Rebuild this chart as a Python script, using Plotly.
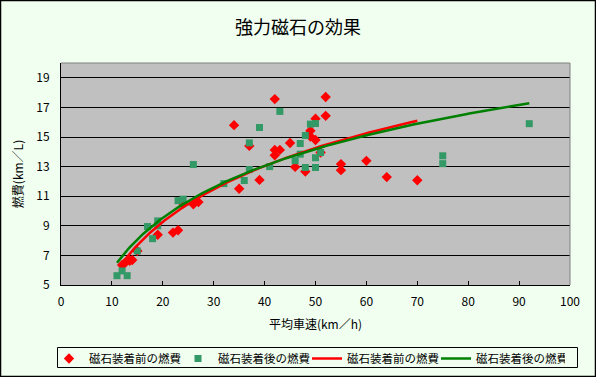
import numpy as np
import plotly.graph_objects as go

before_speed = [12, 12.5, 13.5, 14, 15, 19, 22, 23, 24, 26, 27, 34, 35, 37, 39,
                42, 42, 43, 42, 45, 46, 48, 49, 49, 50, 50, 51, 52, 52, 55, 55,
                60, 64, 70]
before_fuel = [6.35, 6.47, 6.64, 6.69, 7.3, 8.4, 8.54, 8.7, 10.5, 10.45, 10.6,
               15.8, 11.5, 14.4, 12.1, 17.56, 14.13, 14.13, 13.77, 14.59, 12.98,
               12.67, 15.42, 15.03, 16.23, 14.8, 13.95, 17.7, 16.43, 13.17,
               12.76, 13.39, 12.29, 12.08]

after_speed = [11, 12, 13, 15, 17, 18, 19, 19, 23, 24, 26, 32, 36, 37, 37, 39,
               41, 43, 46, 47, 47, 48, 48, 49, 50, 50, 50, 51, 75, 75, 92]
after_fuel = [5.63, 5.95, 5.63, 7.3, 8.95, 8.13, 9.33, 9.0, 10.7, 10.8, 13.14,
              11.85, 12.06, 14.6, 12.8, 15.64, 13.0, 16.73, 13.4, 14.56, 13.84,
              15.1, 12.94, 15.87, 15.91, 13.6, 12.94, 13.95, 13.73, 13.2, 15.9]

x_ticks = list(range(0, 101, 10))
y_ticks = [5, 7, 9, 11, 13, 15, 17, 19]

label_before = "磁石装着前の燃費"
label_after = "磁石装着後の燃費"

FONT = "Noto Sans CJK JP, sans-serif"


def log_trend(xs, ys):
    xs = np.asarray(xs, float)
    ys = np.asarray(ys, float)
    a, b = np.polyfit(np.log(xs), ys, 1)
    gx = np.linspace(xs.min(), xs.max(), 200)
    return gx, a * np.log(gx) + b


fig = go.Figure()
fig.add_trace(go.Scatter(x=before_speed, y=before_fuel, mode="markers",
                         name=label_before,
                         marker=dict(symbol="diamond", size=8, color="#FF0000")))
fig.add_trace(go.Scatter(x=after_speed, y=after_fuel, mode="markers",
                         name=label_after,
                         marker=dict(symbol="square", size=7, color="#339966")))
bx, by = log_trend(before_speed, before_fuel)
fig.add_trace(go.Scatter(x=bx, y=by, mode="lines", name=label_before,
                         line=dict(color="#FF0000", width=2.5)))
ax, ay = log_trend(after_speed, after_fuel)
fig.add_trace(go.Scatter(x=ax, y=ay, mode="lines", name=label_after,
                         line=dict(color="#008000", width=2.5)))

pw, ph = 509, 222
fig.update_layout(
    width=596, height=377,
    margin=dict(l=61, r=26, t=63, b=92, autoexpand=False),
    paper_bgcolor="#F0FFF0", plot_bgcolor="#C0C0C0",
    font=dict(family=FONT, size=12, color="#000000"),
    title=dict(text="強力磁石の効果", x=0.5, xanchor="center",
               y=1 - 28 / 377, yanchor="middle",
               font=dict(family=FONT, size=18, color="#000000")),
    xaxis=dict(range=[0, 100], tickvals=x_ticks, ticks="inside", ticklen=4,
               tickcolor="#000000", showgrid=False, zeroline=False,
               showline=True, linecolor="#000000", linewidth=1,
               automargin=False, ticklabelstandoff=6,
               title=dict(text="平均車速(km／h)", standoff=12,
                          font=dict(family=FONT, size=12)),
               tickfont=dict(family=FONT, size=12)),
    yaxis=dict(range=[5, 20], tickvals=y_ticks, ticks="",
               showgrid=True, gridcolor="#000000",
               gridwidth=1, zeroline=False, showline=True,
               linecolor="#000000", linewidth=1, automargin=False,
               ticklabelstandoff=8,
               title=dict(text="燃費(km／L)", standoff=10,
                          font=dict(family=FONT, size=12)),
               tickfont=dict(family=FONT, size=12)),
    showlegend=True,
    legend=dict(orientation="h", x=(49 - 61) / pw, xanchor="left",
                y=-(344 - 285) / ph, yanchor="top",
                bgcolor="rgba(0,0,0,0)", bordercolor="rgba(0,0,0,0)",
                borderwidth=0,
                font=dict(family=FONT, size=11.5), itemwidth=30,
                entrywidth=84, entrywidthmode="pixels",
                tracegroupgap=0),
    shapes=[
        dict(type="line", xref="paper", yref="paper", x0=0, x1=1, y0=1, y1=1,
             line=dict(color="#808080", width=1)),
        dict(type="line", xref="paper", yref="paper", x0=1, x1=1, y0=0, y1=1,
             line=dict(color="#808080", width=1)),
        dict(type="rect", xref="paper", yref="paper",
             x0=-60.5 / pw, x1=(595.5 - 61) / pw,
             y0=-(376.5 - 285) / ph, y1=(285 - 0.5) / ph,
             line=dict(color="#000000", width=1.5)),
        # legend frame
        dict(type="rect", xref="paper", yref="paper",
             x0=(57.5 - 61) / pw, x1=(577.5 - 61) / pw,
             y0=-(367.5 - 285) / ph, y1=-(347.5 - 285) / ph,
             line=dict(color="#000000", width=1)),
    ],
)

fig.write_html("out.html", config={"displayModeBar": False},
               post_script="document.body.style.margin='0';"
                           "document.body.style.overflow='hidden';")
